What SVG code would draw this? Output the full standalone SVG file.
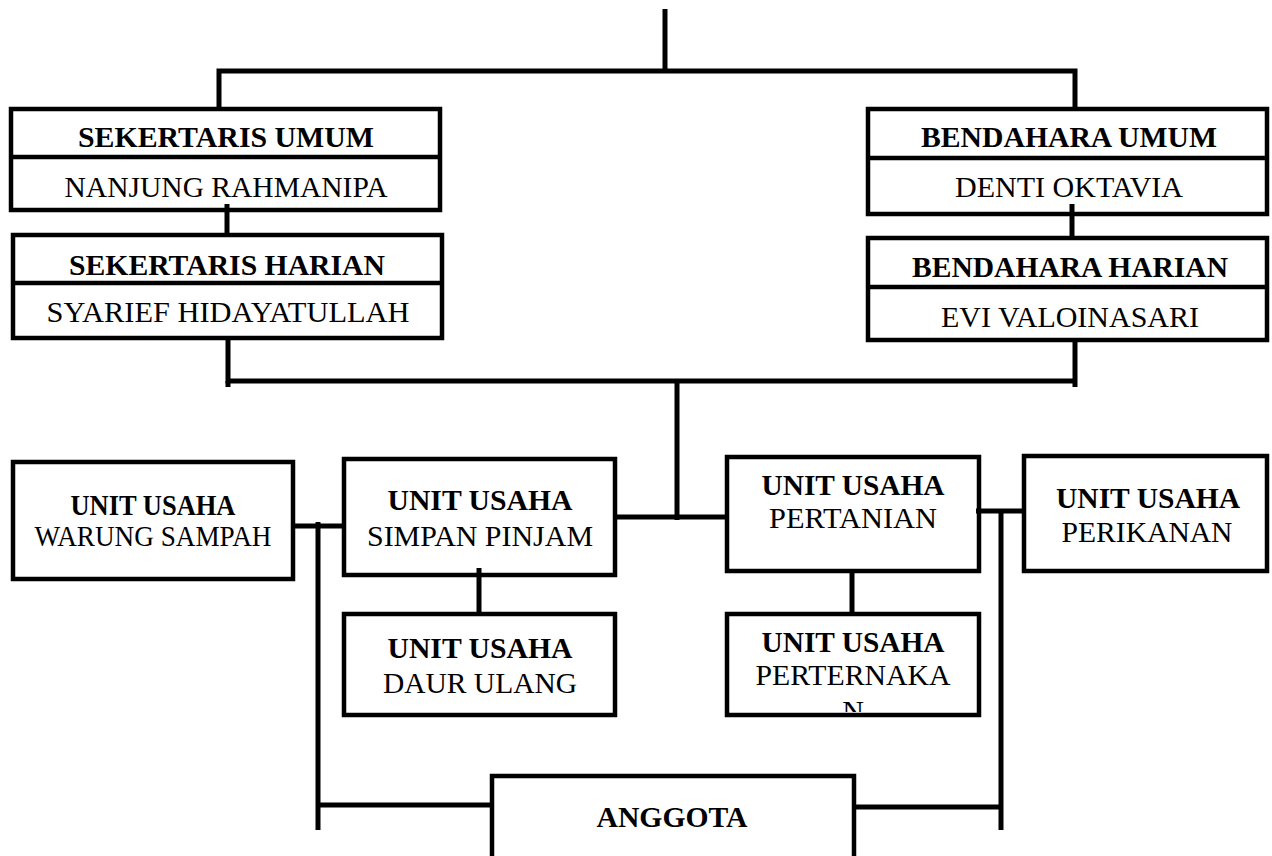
<svg xmlns="http://www.w3.org/2000/svg" width="1272" height="856" viewBox="0 0 1272 856">
<style>
.box{fill:#fff;stroke:#000;stroke-width:4.5;stroke-linejoin:miter}
.sep{stroke:#000;stroke-width:4.5}
.c{stroke:#000;stroke-width:5;fill:none;stroke-linecap:butt}
text{font-family:"Liberation Serif","Times New Roman",serif;font-size:30px;text-anchor:middle;fill:#000}
.b{font-weight:bold}
</style>
<defs>
<clipPath id="clipPtk"><rect x="729" y="616" width="248" height="96"/></clipPath>
</defs>
<rect width="1272" height="856" fill="#fff"/>
<g id="sekertaris-umum">
<rect class="box" x="11" y="109" width="429" height="101"/>
<line class="sep" x1="11" y1="157" x2="440" y2="157"/>
<text class="b" x="226" y="147" textLength="296" lengthAdjust="spacingAndGlyphs">SEKERTARIS UMUM</text>
<text x="226" y="197" textLength="323" lengthAdjust="spacingAndGlyphs">NANJUNG RAHMANIPA</text>
</g>
<g id="sekertaris-harian">
<rect class="box" x="13" y="235" width="429" height="103"/>
<line class="sep" x1="13" y1="283" x2="442" y2="283"/>
<text class="b" x="227" y="275" textLength="316" lengthAdjust="spacingAndGlyphs">SEKERTARIS HARIAN</text>
<text x="228" y="322" textLength="363" lengthAdjust="spacingAndGlyphs">SYARIEF HIDAYATULLAH</text>
</g>
<g id="bendahara-umum">
<rect class="box" x="868" y="109" width="399" height="105"/>
<line class="sep" x1="868" y1="158" x2="1267" y2="158"/>
<text class="b" x="1069" y="147" textLength="296" lengthAdjust="spacingAndGlyphs">BENDAHARA UMUM</text>
<text x="1069" y="197" textLength="228" lengthAdjust="spacingAndGlyphs">DENTI OKTAVIA</text>
</g>
<g id="bendahara-harian">
<rect class="box" x="868" y="238" width="399" height="102"/>
<line class="sep" x1="868" y1="287" x2="1267" y2="287"/>
<text class="b" x="1070" y="277" textLength="316" lengthAdjust="spacingAndGlyphs">BENDAHARA HARIAN</text>
<text x="1070" y="327" textLength="258" lengthAdjust="spacingAndGlyphs">EVI VALOINASARI</text>
</g>
<g id="unit-warung-sampah">
<rect class="box" x="13" y="462" width="280" height="117"/>
<text class="b" x="153" y="515" textLength="165" lengthAdjust="spacingAndGlyphs">UNIT USAHA</text>
<text x="153" y="546" textLength="237" lengthAdjust="spacingAndGlyphs">WARUNG SAMPAH</text>
</g>
<g id="unit-simpan-pinjam">
<rect class="box" x="344" y="459" width="271" height="116"/>
<text class="b" x="480" y="510" textLength="185" lengthAdjust="spacingAndGlyphs">UNIT USAHA</text>
<text x="480" y="546" textLength="226" lengthAdjust="spacingAndGlyphs">SIMPAN PINJAM</text>
</g>
<g id="unit-daur-ulang">
<rect class="box" x="344" y="614" width="271" height="101"/>
<text class="b" x="480" y="658" textLength="185" lengthAdjust="spacingAndGlyphs">UNIT USAHA</text>
<text x="480" y="693" textLength="194" lengthAdjust="spacingAndGlyphs">DAUR ULANG</text>
</g>
<g id="unit-pertanian">
<rect class="box" x="727" y="457" width="252" height="114"/>
<text class="b" x="853" y="495" textLength="183" lengthAdjust="spacingAndGlyphs">UNIT USAHA</text>
<text x="853" y="528" textLength="168" lengthAdjust="spacingAndGlyphs">PERTANIAN</text>
</g>
<g id="unit-perikanan">
<rect class="box" x="1024" y="456" width="243" height="115"/>
<text class="b" x="1148" y="508" textLength="184" lengthAdjust="spacingAndGlyphs">UNIT USAHA</text>
<text x="1147" y="542" textLength="171" lengthAdjust="spacingAndGlyphs">PERIKANAN</text>
</g>
<g id="unit-perternakan">
<rect class="box" x="727" y="614" width="252" height="101"/>
<text class="b" x="853" y="652" textLength="183" lengthAdjust="spacingAndGlyphs">UNIT USAHA</text>
<text x="853" y="685" textLength="195" lengthAdjust="spacingAndGlyphs">PERTERNAKA</text>
<text x="853" y="721" clip-path="url(#clipPtk)">N</text>
</g>
<g id="anggota">
<rect class="box" x="492" y="776" width="362" height="100"/>
<text class="b" x="672" y="827" textLength="151" lengthAdjust="spacingAndGlyphs">ANGGOTA</text>
</g>
<g id="connectors">
<line class="c" x1="665" y1="9" x2="665" y2="71"/>
<polyline class="c" points="219,107 219,71 1075,71 1075,110"/>
<line class="c" x1="227" y1="204" x2="227" y2="235"/>
<line class="c" x1="1072" y1="204" x2="1072" y2="238"/>
<polyline class="c" points="228,338 228,381 1075,381"/>
<line class="c" x1="228" y1="381" x2="228" y2="387"/>
<line class="c" x1="1075" y1="338" x2="1075" y2="387"/>
<line class="c" x1="677" y1="381" x2="677" y2="520"/>
<line class="c" x1="615" y1="517" x2="727" y2="517"/>
<line class="c" x1="293" y1="526" x2="344" y2="526"/>
<line class="c" x1="318" y1="522" x2="318" y2="830"/>
<line class="c" x1="318" y1="805" x2="492" y2="805"/>
<line class="c" x1="479" y1="568" x2="479" y2="614"/>
<line class="c" x1="976" y1="511" x2="1024" y2="511"/>
<line class="c" x1="1001" y1="511" x2="1001" y2="830"/>
<line class="c" x1="854" y1="807" x2="1001" y2="807"/>
<line class="c" x1="852" y1="571" x2="852" y2="614"/>
</g>
</svg>
